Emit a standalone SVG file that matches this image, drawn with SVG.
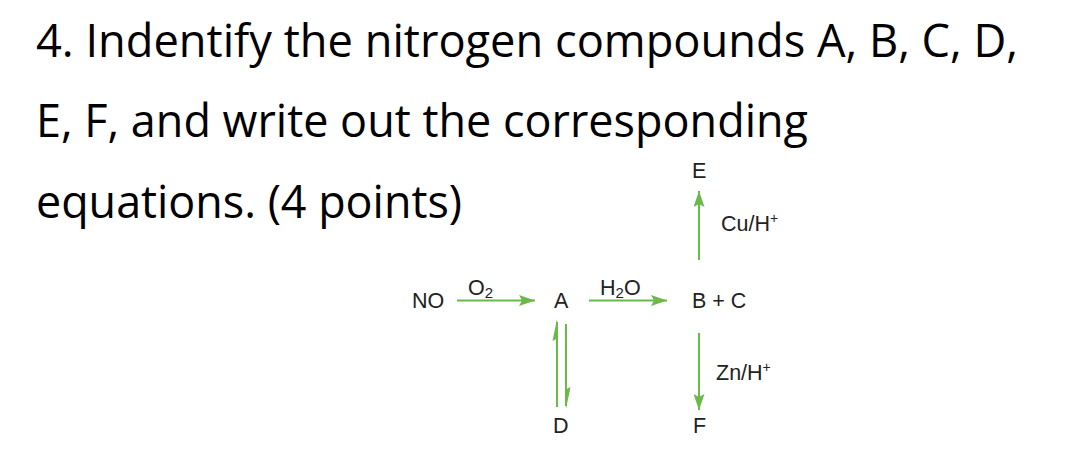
<svg xmlns="http://www.w3.org/2000/svg" width="1080" height="476" viewBox="0 0 1080 476">
<defs>
<marker id="ah" markerWidth="16" markerHeight="11" refX="16" refY="5.5" orient="auto" markerUnits="userSpaceOnUse" viewBox="0 0 16 11">
<path d="M0,0 L16,5.5 L0,11 L3,5.5 Z" fill="#6cb84a"/>
</marker>
</defs>
<style>
.title{font-family:"Open Sans","Noto Sans",sans-serif;font-size:45px;fill:#000}
.lbl{font-family:"Liberation Sans",Arial,sans-serif;font-size:21.5px;fill:#222}
.ln{stroke:#6cb84a;stroke-width:2;fill:none}
.hp{fill:#6cb84a}
</style>
<rect width="1080" height="476" fill="#fff"/>
<g id="title">
<text class="title" x="36" y="57" textLength="982" lengthAdjust="spacingAndGlyphs">4. Indentify the nitrogen compounds A, B, C, D,</text>
<text class="title" x="36" y="137" textLength="772" lengthAdjust="spacingAndGlyphs">E, F, and write out the corresponding</text>
<text class="title" x="36" y="218" textLength="426" lengthAdjust="spacingAndGlyphs">equations. (4 points)</text>
</g>
<g id="connectors">
<line class="ln" x1="457" y1="300.5" x2="535" y2="300.5" marker-end="url(#ah)"/>
<line class="ln" x1="589" y1="300.5" x2="667" y2="300.5" marker-end="url(#ah)"/>
<line class="ln" x1="699" y1="260" x2="699" y2="191" marker-end="url(#ah)"/>
<line class="ln" x1="699" y1="333" x2="699" y2="410" marker-end="url(#ah)"/>
<line class="ln" x1="557" y1="407" x2="557" y2="322"/>
<path class="hp" d="M557,319 L558,338 L552.5,341 Z"/>
<line class="ln" x1="566" y1="324" x2="566" y2="406"/>
<path class="hp" d="M566,409 L565,390 L570.5,387 Z"/>
</g>
<g id="node-NO"><text class="lbl" x="412" y="308">NO</text></g>
<g id="label-O2"><text class="lbl" x="468" y="295">O<tspan font-size="15" dy="3">2</tspan></text></g>
<g id="node-A"><text class="lbl" x="554" y="308">A</text></g>
<g id="label-H2O"><text class="lbl" x="600" y="295">H<tspan font-size="15" dy="3">2</tspan><tspan dy="-3">O</tspan></text></g>
<g id="node-BC"><text class="lbl" x="692" y="308">B + C</text></g>
<g id="node-E"><text class="lbl" x="692" y="178">E</text></g>
<g id="label-CuH"><text class="lbl" x="721" y="231">Cu/H<tspan font-size="14" dy="-8">+</tspan></text></g>
<g id="label-ZnH"><text class="lbl" x="716" y="380">Zn/H<tspan font-size="14" dy="-8">+</tspan></text></g>
<g id="node-D"><text class="lbl" x="553" y="433">D</text></g>
<g id="node-F"><text class="lbl" x="693" y="433">F</text></g>
</svg>
